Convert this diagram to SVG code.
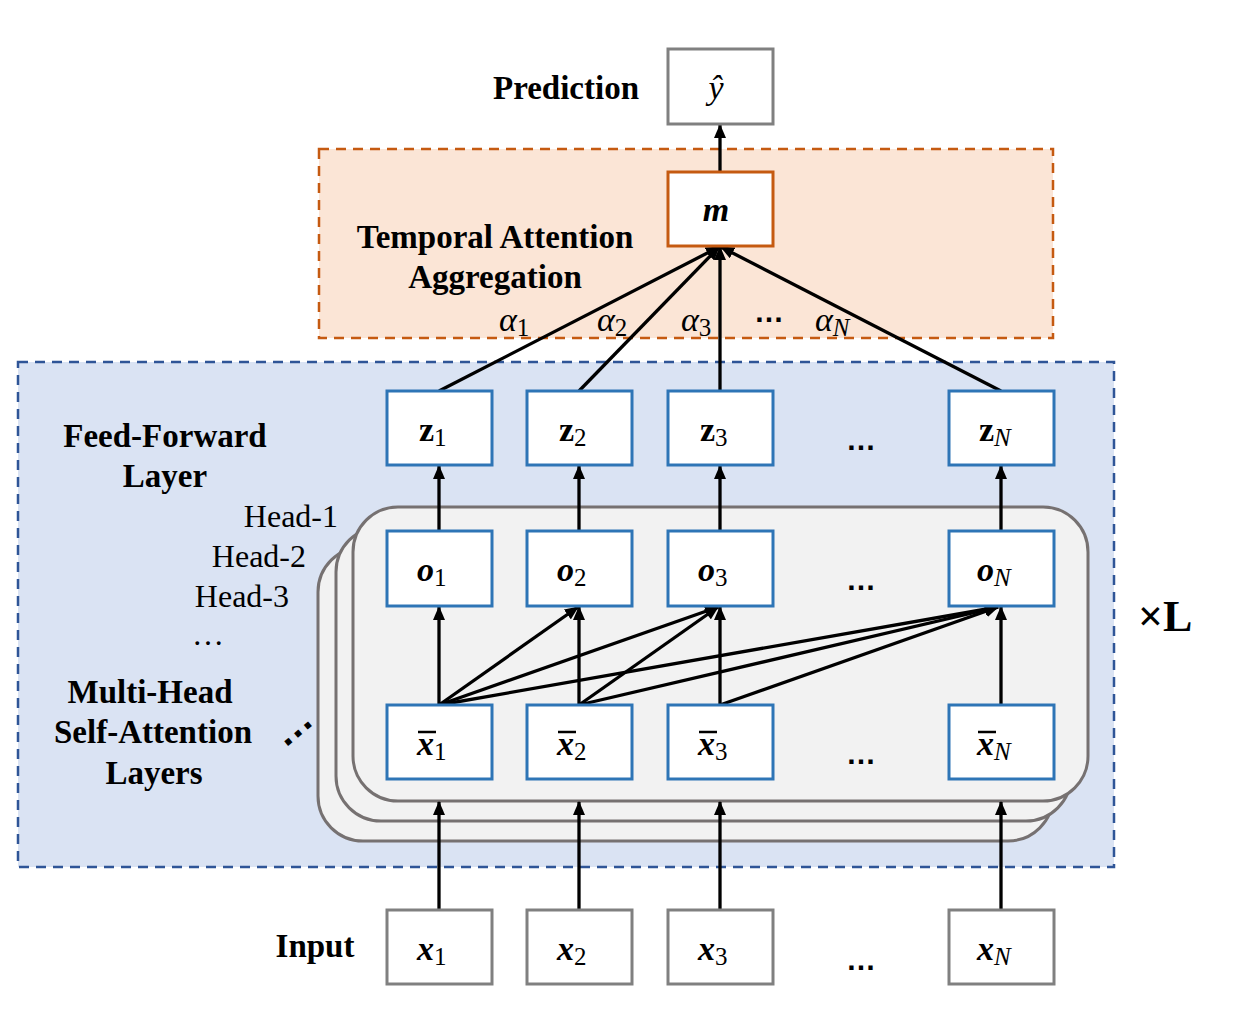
<svg xmlns="http://www.w3.org/2000/svg" width="1238" height="1028" viewBox="0 0 1238 1028">
<style>
.lbl{font-family:"Liberation Serif","Times New Roman",serif;font-weight:bold;font-size:33px;fill:#000}
.reg{font-family:"Liberation Serif","Times New Roman",serif;font-size:32px;fill:#000}
.m{font-family:"Liberation Serif","Times New Roman",serif;font-style:italic;font-weight:bold;font-size:34px;fill:#000}
.mu{font-family:"Liberation Serif","Times New Roman",serif;font-weight:bold;font-size:34px;fill:#000}
.mi{font-family:"Liberation Serif","Times New Roman",serif;font-style:italic;font-size:34px;fill:#000}
.sub{font-size:25px;font-weight:normal;font-style:normal}
.subi{font-size:25px;font-weight:normal;font-style:italic}
.dots{font-family:"Liberation Sans",Arial,sans-serif;font-weight:bold;font-size:30px;fill:#000}
.nb{fill:#fff;stroke:#2e75b6;stroke-width:3}
.ng{fill:#fff;stroke:#808080;stroke-width:3}
.no{fill:#fff;stroke:#c55a11;stroke-width:3}
.card{fill:#f2f2f2;stroke:#767171;stroke-width:3}
.c{stroke:#000;stroke-width:3.3;fill:none;marker-end:url(#ah)}
</style>
<defs>
<marker id="ah" markerUnits="userSpaceOnUse" markerWidth="14" markerHeight="12" refX="13" refY="6" orient="auto">
<path d="M0,0 L14,6 L0,12 Z" fill="#000"/>
</marker>
</defs>
<rect width="1238" height="1028" fill="#fff"/>
<g id="ffn-region">
<rect x="18" y="362" width="1096" height="505" fill="#dae3f3" stroke="#2f5597" stroke-width="2.5" stroke-dasharray="10,7"/>
</g>
<g id="taa-region">
<rect x="319" y="149" width="734" height="189" fill="#fbe5d6" stroke="#c55a11" stroke-width="2.5" stroke-dasharray="10,7"/>
</g>
<g id="heads">
<rect class="card" x="318" y="547" width="735" height="294" rx="45"/>
<rect class="card" x="336" y="527" width="735" height="294" rx="45"/>
<rect class="card" x="353" y="507" width="735" height="294" rx="45"/>
</g>
<g id="connectors">
<line class="c" x1="720" y1="172" x2="720" y2="125"/>
<line class="c" x1="439" y1="391" x2="719" y2="247"/>
<line class="c" x1="579" y1="391" x2="719" y2="247"/>
<line class="c" x1="720" y1="391" x2="720" y2="247"/>
<line class="c" x1="1001" y1="391" x2="721" y2="247"/>
<line class="c" x1="439" y1="531" x2="439" y2="466"/>
<line class="c" x1="579" y1="531" x2="579" y2="466"/>
<line class="c" x1="720" y1="531" x2="720" y2="466"/>
<line class="c" x1="1001" y1="531" x2="1001" y2="466"/>
<line class="c" x1="439" y1="705" x2="439" y2="607"/>
<line class="c" x1="579" y1="705" x2="579" y2="607"/>
<line class="c" x1="720" y1="705" x2="720" y2="607"/>
<line class="c" x1="1001" y1="705" x2="1001" y2="607"/>
<line class="c" x1="439" y1="705" x2="578" y2="607"/>
<line class="c" x1="439" y1="705" x2="718" y2="607"/>
<line class="c" x1="439" y1="705" x2="998" y2="607"/>
<line class="c" x1="579" y1="705" x2="718" y2="607"/>
<line class="c" x1="579" y1="705" x2="998" y2="607"/>
<line class="c" x1="720" y1="705" x2="998" y2="607"/>
<line class="c" x1="439" y1="910" x2="439" y2="802"/>
<line class="c" x1="579" y1="910" x2="579" y2="802"/>
<line class="c" x1="720" y1="910" x2="720" y2="802"/>
<line class="c" x1="1001" y1="910" x2="1001" y2="802"/>
</g>
<g id="y-hat"><rect class="ng" x="668" y="49" width="105" height="75"/><text class="mi" x="716" y="99" text-anchor="middle">ŷ</text></g>
<g id="m"><rect class="no" x="668" y="172" width="105" height="74"/><text class="m" x="716" y="221" text-anchor="middle">m</text></g>
<g id="z1"><rect class="nb" x="387" y="391" width="105" height="74"/><text class="mu" x="419" y="441">z<tspan class="sub" dy="5">1</tspan></text></g>
<g id="z2"><rect class="nb" x="527" y="391" width="105" height="74"/><text class="mu" x="559" y="441">z<tspan class="sub" dy="5">2</tspan></text></g>
<g id="z3"><rect class="nb" x="668" y="391" width="105" height="74"/><text class="mu" x="700" y="441">z<tspan class="sub" dy="5">3</tspan></text></g>
<g id="zN"><rect class="nb" x="949" y="391" width="105" height="74"/><text class="mu" x="979" y="441">z<tspan class="subi" dy="5">N</tspan></text></g>
<g id="o1"><rect class="nb" x="387" y="531" width="105" height="75"/><text class="m" x="417" y="581">o<tspan class="sub" dy="5">1</tspan></text></g>
<g id="o2"><rect class="nb" x="527" y="531" width="105" height="75"/><text class="m" x="557" y="581">o<tspan class="sub" dy="5">2</tspan></text></g>
<g id="o3"><rect class="nb" x="668" y="531" width="105" height="75"/><text class="m" x="698" y="581">o<tspan class="sub" dy="5">3</tspan></text></g>
<g id="oN"><rect class="nb" x="949" y="531" width="105" height="75"/><text class="m" x="977" y="581">o<tspan class="subi" dy="5">N</tspan></text></g>
<g id="xb1"><rect class="nb" x="387" y="705" width="105" height="74"/><text class="m" x="417" y="755">x<tspan class="sub" dy="5">1</tspan></text><line x1="418" y1="732" x2="436" y2="732" stroke="#000" stroke-width="2.5"/></g>
<g id="xb2"><rect class="nb" x="527" y="705" width="105" height="74"/><text class="m" x="557" y="755">x<tspan class="sub" dy="5">2</tspan></text><line x1="558" y1="732" x2="576" y2="732" stroke="#000" stroke-width="2.5"/></g>
<g id="xb3"><rect class="nb" x="668" y="705" width="105" height="74"/><text class="m" x="698" y="755">x<tspan class="sub" dy="5">3</tspan></text><line x1="699" y1="732" x2="717" y2="732" stroke="#000" stroke-width="2.5"/></g>
<g id="xbN"><rect class="nb" x="949" y="705" width="105" height="74"/><text class="m" x="977" y="755">x<tspan class="subi" dy="5">N</tspan></text><line x1="978" y1="732" x2="996" y2="732" stroke="#000" stroke-width="2.5"/></g>
<g id="x1"><rect class="ng" x="387" y="910" width="105" height="74"/><text class="m" x="417" y="960">x<tspan class="sub" dy="5">1</tspan></text></g>
<g id="x2"><rect class="ng" x="527" y="910" width="105" height="74"/><text class="m" x="557" y="960">x<tspan class="sub" dy="5">2</tspan></text></g>
<g id="x3"><rect class="ng" x="668" y="910" width="105" height="74"/><text class="m" x="698" y="960">x<tspan class="sub" dy="5">3</tspan></text></g>
<g id="xN"><rect class="ng" x="949" y="910" width="105" height="74"/><text class="m" x="977" y="960">x<tspan class="subi" dy="5">N</tspan></text></g>
<g id="labels">
<text class="lbl" x="566" y="99" text-anchor="middle">Prediction</text>
<text class="lbl" x="495" y="248" text-anchor="middle">Temporal Attention</text>
<text class="lbl" x="495" y="288" text-anchor="middle">Aggregation</text>
<text class="lbl" x="165" y="447" text-anchor="middle">Feed-Forward</text>
<text class="lbl" x="165" y="487" text-anchor="middle">Layer</text>
<text class="reg" x="338" y="527" text-anchor="end">Head-1</text>
<text class="reg" x="306" y="567" text-anchor="end">Head-2</text>
<text class="reg" x="289" y="607" text-anchor="end">Head-3</text>
<text class="reg" x="208" y="645" text-anchor="middle">…</text>
<text class="lbl" x="150" y="703" text-anchor="middle">Multi-Head</text>
<text class="lbl" x="153" y="743" text-anchor="middle">Self-Attention</text>
<text class="lbl" x="154" y="784" text-anchor="middle">Layers</text>
<text class="dots" x="0" y="0" transform="translate(300,736) rotate(-40)" text-anchor="middle" style="font-size:40px">…</text>
<text class="lbl" x="315" y="957" text-anchor="middle">Input</text>
<text class="lbl" x="1138" y="631" style="font-size:44px">×L</text>
<text class="mi" x="499" y="331">α<tspan class="sub" dy="5">1</tspan></text>
<text class="mi" x="597" y="331">α<tspan class="sub" dy="5">2</tspan></text>
<text class="mi" x="681" y="331">α<tspan class="sub" dy="5">3</tspan></text>
<text class="mi" x="815" y="331">α<tspan class="subi" dy="5">N</tspan></text>
<text class="dots" x="769" y="322" text-anchor="middle">…</text>
<text class="dots" x="861" y="450" text-anchor="middle">…</text>
<text class="dots" x="861" y="590" text-anchor="middle">…</text>
<text class="dots" x="861" y="764" text-anchor="middle">…</text>
<text class="dots" x="861" y="970" text-anchor="middle">…</text>
</g>
</svg>
